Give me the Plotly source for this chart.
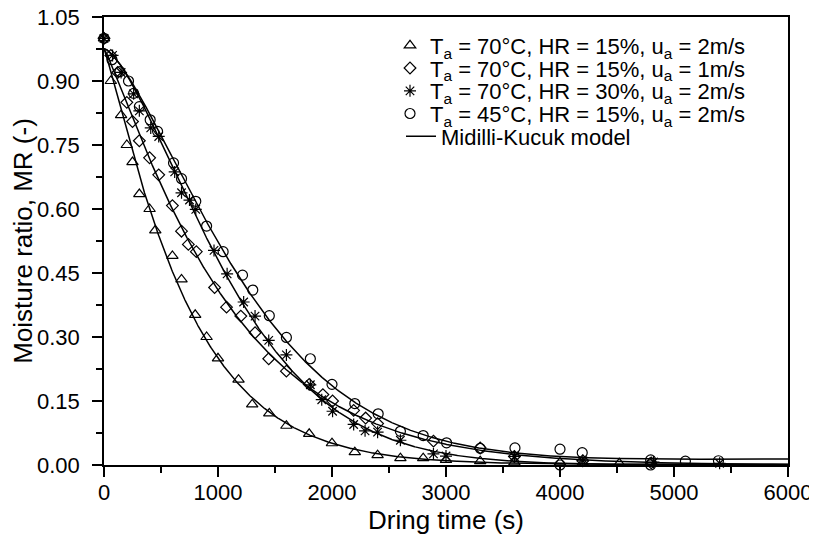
import numpy as np
import plotly.graph_objects as go

# ---------------- data ----------------
labels = [
    "T<sub>a</sub> = 70°C, HR = 15%, u<sub>a</sub> = 2m/s",
    "T<sub>a</sub> = 70°C, HR = 15%, u<sub>a</sub> = 1m/s",
    "T<sub>a</sub> = 70°C, HR = 30%, u<sub>a</sub> = 2m/s",
    "T<sub>a</sub> = 45°C, HR = 15%, u<sub>a</sub> = 2m/s",
]
model_label = "Midilli-Kucuk model"

t_a = [0, 60, 150, 200, 250, 310, 400, 450, 600, 680, 800, 900, 1000, 1180, 1300,
       1450, 1600, 1800, 2000, 2200, 2400, 2600, 2800, 3000, 3300, 3600, 4000, 4200, 4520]
mr_a = [1.0, 0.90, 0.82, 0.75, 0.71, 0.635, 0.60, 0.55, 0.49, 0.435, 0.352, 0.30, 0.25, 0.20, 0.142,
        0.121, 0.092, 0.073, 0.051, 0.030, 0.023, 0.016, 0.016, 0.012, 0.009, 0.006, 0.006, 0.005, 0.004]

t_b = [0, 60, 120, 200, 250, 310, 400, 480, 600, 680, 740, 810, 970, 1075, 1200, 1325,
       1445, 1600, 1800, 1920, 2005, 2190, 2295, 2400, 2890, 3300, 3600, 4200, 4800]
mr_b = [1.0, 0.96, 0.92, 0.85, 0.805, 0.76, 0.72, 0.68, 0.608, 0.548, 0.517, 0.50, 0.416, 0.37, 0.349, 0.31,
        0.249, 0.22, 0.189, 0.165, 0.15, 0.128, 0.11, 0.097, 0.056, 0.04, 0.02, 0.01, 0.005]

t_c = [0, 75, 150, 260, 310, 410, 480, 620, 680, 750, 805, 965, 1080, 1225, 1325, 1445,
       1600, 1810, 1910, 2005, 2190, 2290, 2400, 2600, 2890, 3000, 3600, 4200, 4820, 5400]
mr_c = [1.0, 0.96, 0.92, 0.87, 0.83, 0.79, 0.77, 0.687, 0.638, 0.621, 0.599, 0.503, 0.448, 0.382, 0.349, 0.292,
        0.258, 0.188, 0.153, 0.126, 0.095, 0.08, 0.077, 0.058, 0.026, 0.021, 0.02, 0.01, 0.007, 0.004]

t_d = [0, 70, 140, 215, 260, 310, 405, 470, 610, 680, 805, 900, 1045, 1215, 1305, 1450, 1600,
       1810, 2000, 2200, 2405, 2600, 2800, 3005, 3300, 3605, 4000, 4000, 4195, 4795, 4795, 5100, 5390]
mr_d = [1.0, 0.95, 0.922, 0.90, 0.871, 0.84, 0.809, 0.782, 0.708, 0.671, 0.618, 0.56, 0.50, 0.445, 0.41, 0.35, 0.299,
        0.249, 0.189, 0.144, 0.12, 0.079, 0.069, 0.052, 0.039, 0.04, 0.037, 0.0, 0.029, 0.012, 0.0, 0.009, 0.01]

# Midilli-Kucuk fitted parameters: MR = a*exp(-k*t^n) + b*t
mk_a = [0.976, 0.976, 0.976, 0.976]
mk_k = [5.78e-4, 3.534e-4, 2.575e-5, 3.459e-5]
mk_n = [1.124, 1.13, 1.48, 1.42]
mk_b = [3e-7, 0.0, 0.0, 2.3e-6]

x_ticks = [0, 1000, 2000, 3000, 4000, 5000, 6000]
y_ticks = [0.00, 0.15, 0.30, 0.45, 0.60, 0.75, 0.90, 1.05]

# ---------------- figure ----------------
FONT = "Liberation Sans, Arial, sans-serif"
series_t = [t_a, t_b, t_c, t_d]
series_mr = [mr_a, mr_b, mr_c, mr_d]
symbols = ["triangle-up-open", "diamond-open", "asterisk-open", "circle-open"]
sizes = [10, 9, 10, 10]

fig = go.Figure()

t_model = np.linspace(0, 6000, 1201)
for i in range(4):
    mr_model = mk_a[i] * np.exp(-mk_k[i] * t_model ** mk_n[i]) + mk_b[i] * t_model
    fig.add_trace(go.Scatter(
        x=t_model, y=mr_model, mode="lines",
        line=dict(color="black", width=1.5),
        name=model_label, legendgroup="model", showlegend=(i == 0),
        legend="legend5", hoverinfo="skip"))

legend_ids = ["legend", "legend2", "legend3", "legend4"]
for i in range(4):
    fig.add_trace(go.Scatter(
        x=series_t[i], y=series_mr[i], mode="markers", name=labels[i],
        marker=dict(symbol=symbols[i], size=sizes[i], color="black",
                    line=dict(color="black", width=1.2)),
        cliponaxis=False, legend=legend_ids[i], showlegend=True))

# page is rendered with an 8px body margin -> figure is 8px smaller each way
W, H = 809, 532
ml, mr_, mt, mb = 96, 29, 9, 75
pw, ph = W - ml - mr_, H - mt - mb
OFF = 8

def px2paper_x(px):
    return (px - OFF - ml) / pw

def px2paper_y(py):
    return (H - mb - (py - OFF)) / ph

row_y = [45, 68.3, 91.7, 115, 138.3]
leg_common = dict(bgcolor="rgba(0,0,0,0)", borderwidth=0, xanchor="left",
                  yanchor="middle", font=dict(family=FONT, size=22, color="black"),
                  itemclick=False, itemdoubleclick=False)
layout_legends = {}
for j, lid in enumerate(legend_ids + ["legend5"]):
    xpx = 390 if j < 4 else 401
    layout_legends[lid] = dict(x=px2paper_x(xpx), y=px2paper_y(row_y[j] + 0.5 - 0.6 * j), **leg_common)

axis_common = dict(
    showline=True, linecolor="black", linewidth=1.5, mirror=True,
    ticks="outside", ticklen=10, tickwidth=1.5, tickcolor="black",
    showgrid=False, zeroline=False, automargin=False, ticklabeloverflow="allow",
    tickfont=dict(family=FONT, size=22, color="black"),
)

fig.update_layout(
    width=W, height=H, showlegend=True,
    margin=dict(l=ml, r=mr_, t=mt, b=mb, autoexpand=False),
    paper_bgcolor="white", plot_bgcolor="white",
    font=dict(family=FONT, color="black"),
    xaxis=dict(range=[0, 6000], tickvals=x_ticks, ticktext=[str(v) for v in x_ticks],
               ticklabelstandoff=-3,
               minor=dict(dtick=500, ticks="outside", ticklen=6, tickwidth=1.5, tickcolor="black"),
               title=dict(text="Dring time (s)", font=dict(family=FONT, size=26), standoff=6),
               **axis_common),
    yaxis=dict(range=[0, 1.05], tickvals=y_ticks, ticktext=[f"{v:.2f}" for v in y_ticks],
               ticklabelstandoff=8,
               minor=dict(tick0=0, dtick=0.075, ticks="outside", ticklen=6, tickwidth=1.5, tickcolor="black"),
               title=dict(text="Moisture ratio, MR (-)", font=dict(family=FONT, size=26), standoff=12),
               **axis_common),
    **layout_legends,
)

fig.write_html("out.html")
